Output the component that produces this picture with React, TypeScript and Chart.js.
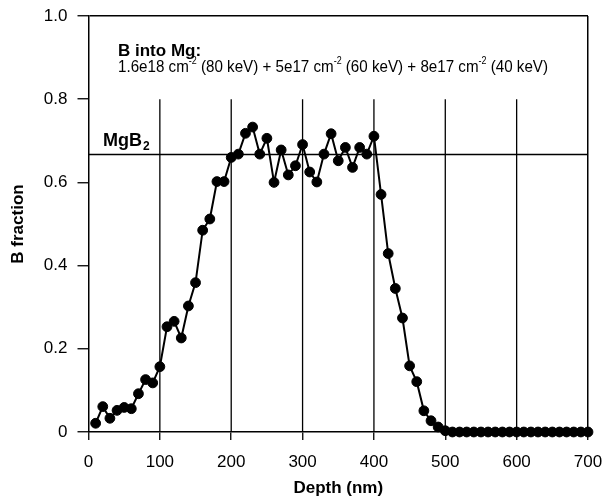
import React, { useEffect, useRef } from 'react';
import { Chart, registerables } from 'chart.js';

Chart.register(...registerables);

// ---- Data ----
const depthNm = [
  10, 20, 30, 40, 50, 60, 70, 80, 90, 100,
  110, 120, 130, 140, 150, 160, 170, 180, 190, 200,
  210, 220, 230, 240, 250, 260, 270, 280, 290, 300,
  310, 320, 330, 340, 350, 360, 370, 380, 390, 400,
  410, 420, 430, 440, 450, 460, 470, 480, 490, 500,
  510, 520, 530, 540, 550, 560, 570, 580, 590, 600,
  610, 620, 630, 640, 650, 660, 670, 680, 690, 700,
];
const bFraction = [
  0.021, 0.061, 0.033, 0.052, 0.059, 0.056, 0.092, 0.126, 0.118, 0.157,
  0.253, 0.266, 0.226, 0.303, 0.359, 0.485, 0.512, 0.602, 0.602, 0.660,
  0.668, 0.718, 0.733, 0.668, 0.706, 0.600, 0.678, 0.618, 0.640, 0.691,
  0.625, 0.601, 0.668, 0.717, 0.652, 0.684, 0.636, 0.684, 0.668, 0.711,
  0.571, 0.429, 0.345, 0.274, 0.159, 0.121, 0.051, 0.027, 0.012, 0.003,
  0, 0, 0, 0, 0, 0, 0, 0, 0, 0,
  0, 0, 0, 0, 0, 0, 0, 0, 0, 0,
];
const mgB2Level = 0.667;
const gridDepths = [100, 200, 300, 400, 500, 600];
const gridTop = 0.8;
const xMin = 0;
const xMax = 700;
const xStep = 100;
const yMin = 0;
const yMax = 1.0;
const yStep = 0.2;

const titleText = 'B into Mg:';
const doseParts: [string, boolean][] = [
  ['1.6e18 cm', false],
  ['-2', true],
  [' (80 keV) + 5e17 cm', false],
  ['-2', true],
  [' (60 keV) + 8e17 cm', false],
  ['-2', true],
  [' (40 keV)', false],
];
const phaseLabel = 'MgB';
const phaseSub = '2';

const FONT = '"Liberation Sans", Arial, Helvetica, sans-serif';

const annotationPlugin = {
  id: 'annotText',
  afterDraw(chart: any) {
    const ctx = chart.ctx as CanvasRenderingContext2D;
    const { left, top } = chart.chartArea;
    ctx.save();
    ctx.fillStyle = '#000';
    ctx.textBaseline = 'alphabetic';
    ctx.textAlign = 'left';

    // Title line
    ctx.font = `bold 17px ${FONT}`;
    ctx.fillText(titleText, left + 29.5, top + 40);

    // Dose line (condensed)
    const mainFont = `17px ${FONT}`;
    const supFont = `10px ${FONT}`;
    let total = 0;
    for (const [t, sup] of doseParts) {
      ctx.font = sup ? supFont : mainFont;
      total += ctx.measureText(t).width;
    }
    const targetW = 430;
    const sx = targetW / total;
    ctx.save();
    ctx.translate(left + 29.5, top + 55.5);
    ctx.scale(sx, 1);
    let x = 0;
    for (const [t, sup] of doseParts) {
      ctx.font = sup ? supFont : mainFont;
      ctx.fillText(t, x, sup ? -7.5 : 0);
      x += ctx.measureText(t).width;
    }
    ctx.restore();

    // MgB2 label
    const yScale = chart.scales.y;
    const yLine = yScale.getPixelForValue(mgB2Level);
    ctx.font = `bold 18px ${FONT}`;
    ctx.fillText(phaseLabel, left + 14.5, yLine - 9);
    const w = ctx.measureText(phaseLabel).width;
    ctx.font = `bold 12px ${FONT}`;
    ctx.fillText(phaseSub, left + 14.5 + w + 1, yLine - 5);
    ctx.restore();
  },
};

export default function App() {
  const ref = useRef<HTMLCanvasElement | null>(null);

  useEffect(() => {
    if (!ref.current) return;
    const seriesData = depthNm.map((d, i) => ({ x: d, y: bFraction[i] }));
    const gridSets = gridDepths.map((d) => ({
      type: 'line' as const,
      data: [
        { x: d, y: yMin },
        { x: d, y: gridTop },
      ],
      borderColor: '#000',
      borderWidth: 1.3,
      pointRadius: 0,
      order: 2,
      clip: false as any,
    }));
    const chart = new Chart(ref.current, {
      type: 'line',
      data: {
        datasets: [
          {
            data: seriesData,
            borderColor: '#000',
            backgroundColor: '#000',
            borderWidth: 2,
            pointRadius: 4.9,
            pointBorderWidth: 1,
            pointBackgroundColor: '#000',
            pointBorderColor: '#000',
            order: 0,
            clip: false as any,
          },
          {
            data: [
              { x: xMin, y: mgB2Level },
              { x: xMax, y: mgB2Level },
            ],
            borderColor: '#000',
            borderWidth: 1.5,
            pointRadius: 0,
            order: 1,
          },
          ...gridSets,
        ] as any,
      },
      options: {
        responsive: false,
        animation: false,
        events: [],
        layout: { padding: { left: 0, top: 16, right: 18, bottom: 0 } },
        plugins: {
          legend: { display: false },
          tooltip: { enabled: false },
        },
        scales: {
          x: {
            type: 'linear',
            min: xMin,
            max: xMax,
            afterFit: (scale: any) => {
              scale.height = 67;
              scale.paddingLeft = 0;
              scale.paddingRight = 0;
            },
            ticks: {
              stepSize: xStep,
              color: '#000',
              font: { family: FONT, size: 17 },
              padding: 12,
              maxRotation: 0,
            },
            grid: {
              drawOnChartArea: true,
              color: (c: any) => (c.tick && c.tick.value === xMax ? '#000' : 'rgba(0,0,0,0)'),
              lineWidth: 1.5,
              tickColor: '#000',
              tickLength: 8,
              tickWidth: 1.3,
            },
            border: { display: true, color: '#000', width: 1.5 },
            title: {
              display: true,
              text: 'Depth (nm)',
              color: '#000',
              font: { family: FONT, size: 17, weight: 'bold' },
              padding: { top: 0, bottom: 0 },
            },
          },
          y: {
            type: 'linear',
            min: yMin,
            max: yMax,
            afterFit: (scale: any) => {
              scale.width = 88.5;
              scale.paddingTop = 0;
              scale.paddingBottom = 0;
            },
            ticks: {
              stepSize: yStep,
              color: '#000',
              font: { family: FONT, size: 17 },
              padding: 10,
              callback: (v: any) => (Number(v) === 0 ? '0' : Number(v).toFixed(1)),
            },
            grid: {
              drawOnChartArea: true,
              color: (c: any) => (c.tick && Math.abs(c.tick.value - yMax) < 1e-9 ? '#000' : 'rgba(0,0,0,0)'),
              lineWidth: 1.5,
              tickColor: '#000',
              tickLength: 11,
              tickWidth: 1.3,
            },
            border: { display: true, color: '#000', width: 1.5 },
            title: {
              display: true,
              text: 'B fraction',
              color: '#000',
              font: { family: FONT, size: 17, weight: 'bold' },
              padding: { top: 8, bottom: 0 },
            },
          },
        },
      },
      plugins: [annotationPlugin],
    });
    return () => chart.destroy();
  }, []);

  return (
    <div style={{ position: 'absolute', left: 0, top: 0, width: 606, height: 499, background: '#fff' }}>
      <canvas ref={ref} width={606} height={499} style={{ width: 606, height: 499, display: 'block' }} />
    </div>
  );
}
